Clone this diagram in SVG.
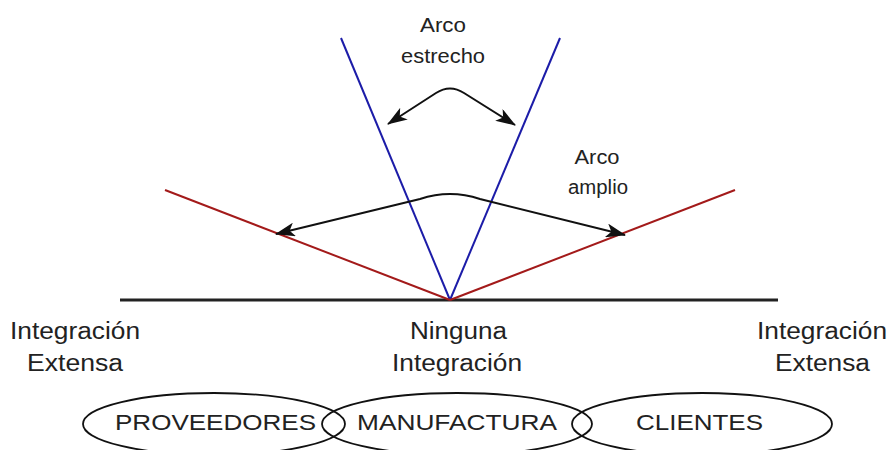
<svg xmlns="http://www.w3.org/2000/svg" width="889" height="450" viewBox="0 0 889 450">
<style>
text{font-family:"Liberation Sans",Arial,sans-serif;fill:#222;}
.lbl{font-size:19.5px;text-anchor:middle;}
.big{font-size:23.5px;}
.in{font-size:21.5px;}
.blue{stroke:#1c1ca8;stroke-width:2;fill:none;}
.red{stroke:#a31a1a;stroke-width:2;fill:none;}
.arc{stroke:#111;stroke-width:2;fill:none;marker-start:url(#ah);marker-end:url(#ah);}
.ell{fill:none;stroke:#111;stroke-width:1.8;}
</style>
<defs>
<marker id="ah" viewBox="0 0 20 14" refX="19" refY="7" markerWidth="20" markerHeight="14" markerUnits="userSpaceOnUse" orient="auto-start-reverse">
<path d="M0,0 L20,7 L0,14 L5,7 Z" fill="#111"/>
</marker>
</defs>
<rect width="889" height="450" fill="#fff"/>
<g id="connectors">
<line x1="120" y1="300" x2="778" y2="300" stroke="#222" stroke-width="3"/>
<line class="blue" x1="450" y1="300" x2="341" y2="38"/>
<line class="blue" x1="450" y1="300" x2="560" y2="38"/>
<line class="red" x1="450" y1="300" x2="165" y2="190"/>
<line class="red" x1="450" y1="300" x2="735" y2="190"/>
<path class="arc" d="M388,124 L436,93 Q450,84 464,93 L515,125"/>
<path class="arc" d="M276,234 L420,199 Q450,189 480,199 L625,235"/>
</g>
<g id="label-estrecho">
<text class="lbl" x="443" y="32" textLength="46" lengthAdjust="spacingAndGlyphs">Arco</text>
<text class="lbl" x="443" y="63" textLength="84" lengthAdjust="spacingAndGlyphs">estrecho</text>
</g>
<g id="label-amplio">
<text class="lbl" x="597" y="164" textLength="45" lengthAdjust="spacingAndGlyphs">Arco</text>
<text class="lbl" x="598" y="194" textLength="60" lengthAdjust="spacingAndGlyphs">amplio</text>
</g>
<g id="label-left">
<text class="big" x="10" y="339" textLength="130" lengthAdjust="spacingAndGlyphs">Integración</text>
<text class="big" x="27" y="371" textLength="96" lengthAdjust="spacingAndGlyphs">Extensa</text>
</g>
<g id="label-center">
<text class="big" x="410" y="339" textLength="97" lengthAdjust="spacingAndGlyphs">Ninguna</text>
<text class="big" x="392" y="371" textLength="130" lengthAdjust="spacingAndGlyphs">Integración</text>
</g>
<g id="label-right">
<text class="big" x="757" y="339" textLength="130" lengthAdjust="spacingAndGlyphs">Integración</text>
<text class="big" x="775" y="371" textLength="95" lengthAdjust="spacingAndGlyphs">Extensa</text>
</g>
<g id="proveedores">
<ellipse class="ell" cx="214" cy="424" rx="131" ry="31"/>
<text class="in" x="115" y="430" textLength="201" lengthAdjust="spacingAndGlyphs">PROVEEDORES</text>
</g>
<g id="manufactura">
<ellipse class="ell" cx="457" cy="424" rx="135" ry="31"/>
<text class="in" x="357" y="430" textLength="200" lengthAdjust="spacingAndGlyphs">MANUFACTURA</text>
</g>
<g id="clientes">
<ellipse class="ell" cx="702" cy="424" rx="130" ry="31"/>
<text class="in" x="636" y="430" textLength="127" lengthAdjust="spacingAndGlyphs">CLIENTES</text>
</g>
</svg>
